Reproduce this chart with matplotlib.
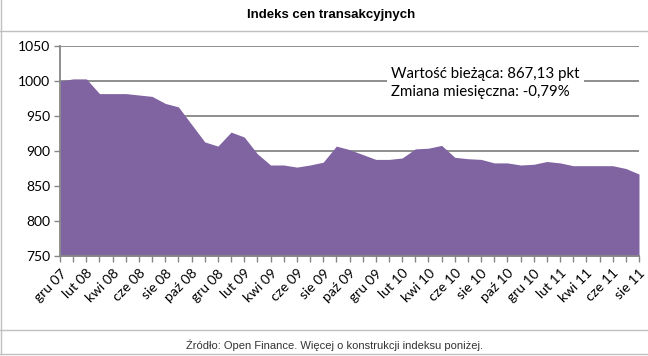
import matplotlib
matplotlib.use('Agg')
import matplotlib.pyplot as plt
from matplotlib.lines import Line2D
import numpy as np

# miesiace gru 07 - sie 11
months = ['gru 07', 'sty 08', 'lut 08', 'mar 08', 'kwi 08', 'maj 08', 'cze 08',
          'lip 08', 'sie 08', 'wrz 08', 'paź 08', 'lis 08', 'gru 08', 'sty 09',
          'lut 09', 'mar 09', 'kwi 09', 'maj 09', 'cze 09', 'lip 09', 'sie 09',
          'wrz 09', 'paź 09', 'lis 09', 'gru 09', 'sty 10', 'lut 10', 'mar 10',
          'kwi 10', 'maj 10', 'cze 10', 'lip 10', 'sie 10', 'wrz 10', 'paź 10',
          'lis 10', 'gru 10', 'sty 11', 'lut 11', 'mar 11', 'kwi 11', 'maj 11',
          'cze 11', 'lip 11', 'sie 11']
index_vals = [1000, 1003, 1003, 982, 982, 982, 980, 978, 968, 963, 938, 913,
              907, 927, 920, 896, 880, 880, 877, 880, 884, 907, 902, 895,
              888, 888, 890, 903, 904, 908, 891, 889, 888, 883, 883, 880,
              881, 885, 883, 879, 879, 879, 879, 875, 867.13]
y_ticks = [750, 800, 850, 900, 950, 1000, 1050]

title = 'Indeks cen transakcyjnych'
info = 'Wartość bieżąca: 867,13 pkt\nZmiana miesięczna: -0,79%'
source = 'Źródło: Open Finance. Więcej o konstrukcji indeksu poniżej.'

W, H = 648, 356
fig = plt.figure(figsize=(W / 100, H / 100), dpi=100)
ax = fig.add_axes([60 / W, 1 - 256 / H, 579 / W, 210 / H])

x = np.arange(len(index_vals))
ax.fill_between(x, 750, index_vals, color='#8064A2', linewidth=0, zorder=2)

ax.set_xlim(0, len(index_vals) - 1)
ax.set_ylim(750, 1050)
ax.set_yticks(y_ticks)
ax.set_yticklabels([str(v) for v in y_ticks], family='Lato', fontsize=10)
ax.set_xticks(x, minor=True)
ax.set_xticks(x[::2])
ax.set_xticklabels(months[::2], rotation=45, ha='right', rotation_mode='anchor',
                   family='Lato', fontsize=10)

ax.grid(axis='y', color='#868686', linewidth=1.3, zorder=1)
ax.set_axisbelow(True)
ax.tick_params(axis='y', length=4, width=1, color='#868686', pad=3)
ax.tick_params(axis='x', which='both', length=4, width=1, color='#868686', pad=4)
for s in ['top', 'right']:
    ax.spines[s].set_visible(False)
for s in ['left', 'bottom']:
    ax.spines[s].set_color('#868686')
    ax.spines[s].set_linewidth(1.3)
    ax.spines[s].set_zorder(3)

fig.text(391 / W, 1 - 83 / H, info, ha='left', va='center', family='Lato',
         fontsize=10.8, linespacing=1.45,
         bbox=dict(facecolor='white', edgecolor='none', pad=3))

fig.text(331 / W, 1 - 15 / H, title, ha='center', va='center',
         family='Liberation Sans', fontweight='bold', fontsize=9.5)
fig.text(334 / W, 1 - 345 / H, source, ha='center', va='center',
         family='Liberation Sans', fontsize=8, color='#333333')

# ramka
for yy in [31, 330, 354]:
    fig.add_artist(Line2D([0, 1], [1 - yy / H] * 2, color='#C0C0C0', lw=1,
                          transform=fig.transFigure))
fig.add_artist(Line2D([0.5 / W] * 2, [1 - 354 / H, 1], color='#C0C0C0', lw=1,
                      transform=fig.transFigure))

plt.savefig('out.png', dpi=100)
